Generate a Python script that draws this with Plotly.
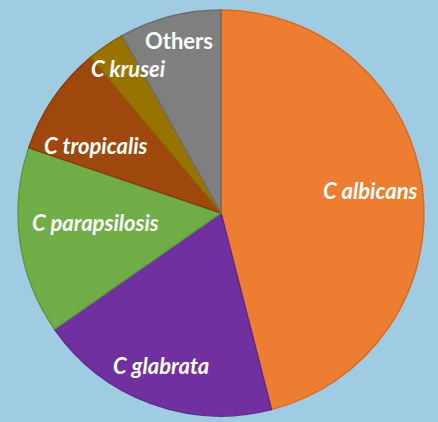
import plotly.graph_objects as go

species = ["C albicans", "C glabrata", "C parapsilosis", "C tropicalis", "C krusei", "Others"]
share = [46.0, 19.3, 14.9, 8.7, 3.0, 8.1]
colors = ["#ED7D31", "#7030A0", "#70AD47", "#9E480E", "#997300", "#7F7F7F"]
edge_colors = ["#D96A22", "#622890", "#5F9B3A", "#8A3D0B", "#866400", "#6E6E6E"]

# label anchor points (pixels) and italic flags
label_x = [370, 161, 95, 96, 128, 179]
label_y = [190, 365, 223, 145, 68, 41]
label_italic = [True, True, True, True, True, False]

W, H = 438, 422
cx, cy, r = 221, 213, 203

fig = go.Figure(go.Pie(
    labels=species,
    values=share,
    sort=False,
    direction="clockwise",
    rotation=0,
    textinfo="none",
    hoverinfo="label+percent",
    marker=dict(colors=colors, line=dict(color=edge_colors, width=1.5)),
    domain=dict(x=[(cx - r) / W, (cx + r) / W], y=[(H - cy - r) / H, (H - cy + r) / H]),
    showlegend=False,
))

for name, x, y, it in zip(species, label_x, label_y, label_italic):
    fig.add_annotation(
        x=x / W, y=1 - y / H, xref="paper", yref="paper",
        text=name, showarrow=False, xanchor="center", yanchor="middle",
        font=dict(family="Lato", size=22, color="white", weight="bold",
                  style="italic" if it else "normal"),
    )

fig.update_layout(
    width=W, height=H,
    margin=dict(l=0, r=0, t=0, b=0),
    paper_bgcolor="#A0CCE3",
    plot_bgcolor="#A0CCE3",
)

fig.write_html("out.html", config={"displayModeBar": False},
               post_script="document.body.style.margin='0';document.body.style.background='#A0CCE3';")
